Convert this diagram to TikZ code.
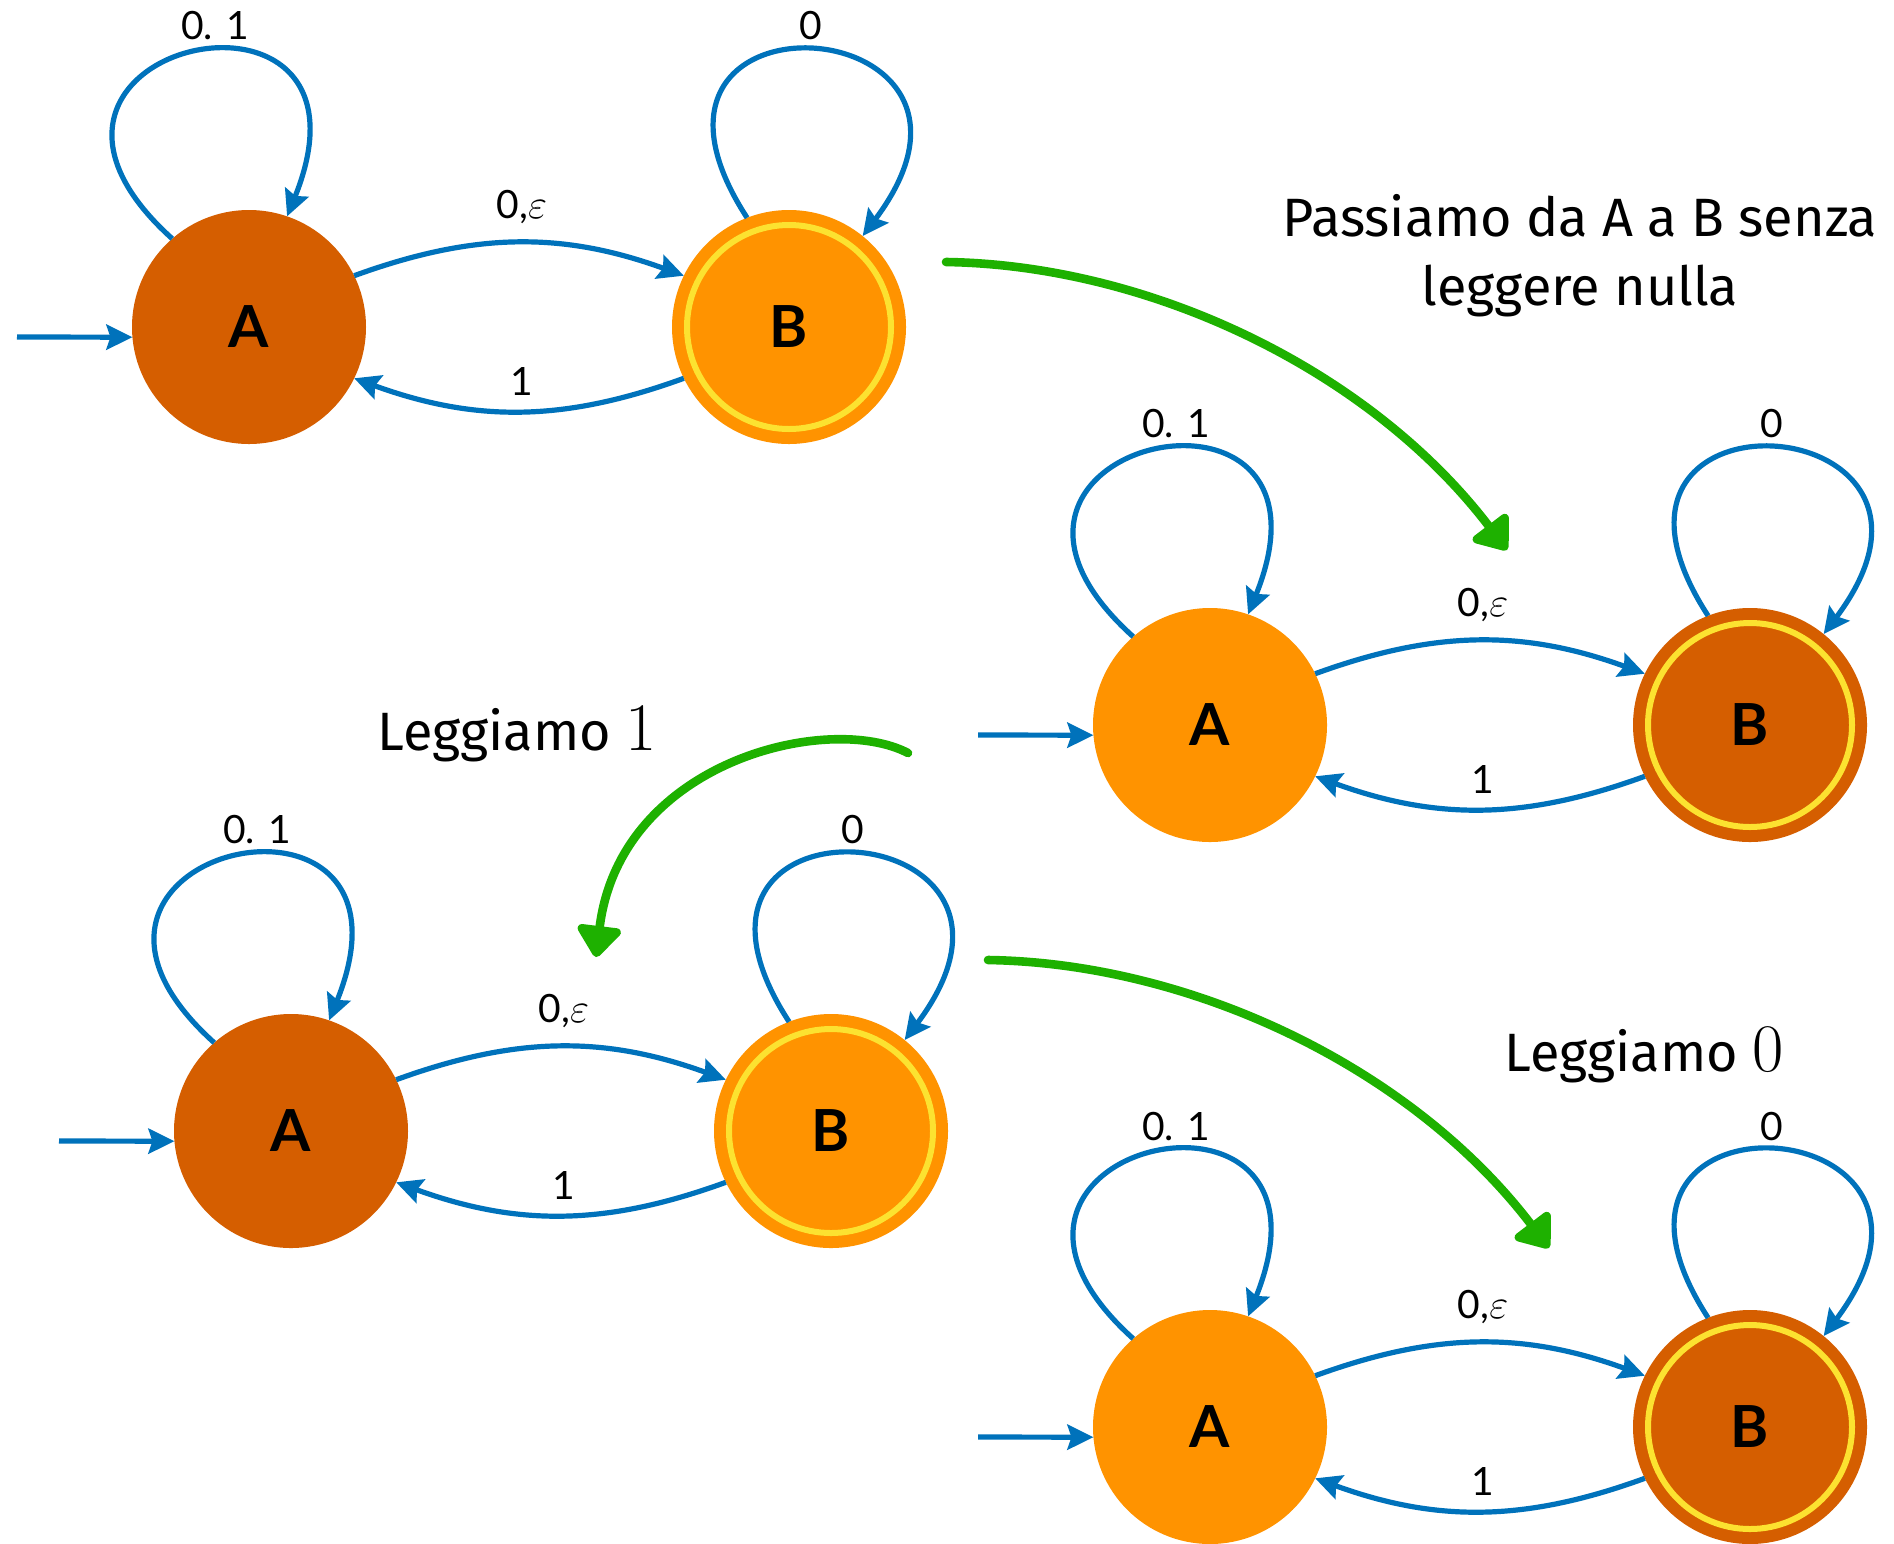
\documentclass[tikz,border=0pt]{standalone}
\usepackage{fontspec}
\setmainfont{Lato}
\newfontfamily\notefont{Fira Sans}
\newfontfamily\lmfont{Latin Modern Roman}
\usetikzlibrary{arrows.meta}

\definecolor{stdark}{RGB}{213,94,0}
\definecolor{stlight}{RGB}{255,147,0}
\definecolor{ringyellow}{RGB}{252,226,48}
\definecolor{edgeblue}{RGB}{0,114,187}
\definecolor{handgreen}{RGB}{30,177,0}

\tikzset{
  state/.style={circle, minimum size=117pt, inner sep=0pt, outer sep=0pt,
    font=\fontsize{29}{29}\selectfont\bfseries},
  ring/.style={draw=ringyellow, line width=3pt},
  edge/.style={draw=edgeblue, line width=2.6pt,
    -{Stealth[length=13pt,width=12.5pt,inset=2pt]}},
  lbl/.style={font=\fontsize{19.5}{20}\selectfont, inner sep=0pt},
  hand/.style={draw=handgreen, line width=4.3pt, line cap=round, line join=round,
    -{Triangle[length=17pt,width=25pt,round]}},
  note/.style={font=\notefont\fontsize{27}{34.5}\selectfont, align=center, inner sep=0pt},
}

% One two-state automaton: #1 name prefix, #2 position of A, #3 fill of A, #4 fill of B
\newcommand{\fsadiagram}[4]{%
  \begin{scope}[shift={#2}, name prefix=#1-]
    \node[state, fill=#3] (A) at (0,0) {A};
    \node[state, fill=#4] (B) at (540,0) {B};
    \draw[ring] (B.center) circle[radius=102];
    \coordinate (start) at (-232,-10);
    \draw[edge] (start) -- (A.185);
    \draw[edge] (A.131) .. controls +(138:290) and +(68:290) .. (A.71);
    \draw[edge] (B.111) .. controls +(123:288) and +(53:288) .. (B.51);
    \draw[edge] (A.26) to[bend left=20] (B.154);
    \draw[edge] (B.206) to[bend left=20] (A.-26);
    \node[lbl] (loopA) at (-34,301) {0. 1};
    \node[lbl] (loopB) at (562,301) {0};
    \node[lbl] (ab) at (273,120) {0,$\varepsilon$};
    \node[lbl] (ba) at (273,-54) {1};
  \end{scope}}

\begin{document}
\begin{tikzpicture}[x=0.5pt, y=0.5pt]
  \useasboundingbox (0,0) rectangle (1894,-1543);
  \fill[white] (0,0) rectangle (1894,-1543);

  \fsadiagram{p}{(249,-327)}{stdark}{stlight}
  \fsadiagram{q}{(1210,-725)}{stlight}{stdark}
  \fsadiagram{r}{(291,-1131)}{stdark}{stlight}
  \fsadiagram{s}{(1210,-1427)}{stlight}{stdark}

  % captions
  \node[note] (t1) at (1580,-256) {Passiamo da A a B senza\\leggere nulla};
  \node[note] (t2) at (517,-734) {Leggiamo {\lmfont\fontsize{34}{34}\selectfont 1}};
  \node[note] (t3) at (1644,-1055) {Leggiamo {\lmfont\fontsize{34}{34}\selectfont 0}};

  % hand-drawn green arrows between the steps
  \coordinate (g1s) at (946,-262);  \coordinate (g1e) at (1507,-550);
  \coordinate (g2s) at (908,-753);  \coordinate (g2e) at (596,-957);
  \coordinate (g3s) at (988,-960);  \coordinate (g3e) at (1549,-1248);
  \draw[hand] (g1s) .. controls (1150,-265) and (1370,-370) .. (g1e);
  \draw[hand] (g2s) .. controls (830,-712) and (620,-760) .. (g2e);
  \draw[hand] (g3s) .. controls (1192,-963) and (1412,-1068) .. (g3e);
\end{tikzpicture}
\end{document}
